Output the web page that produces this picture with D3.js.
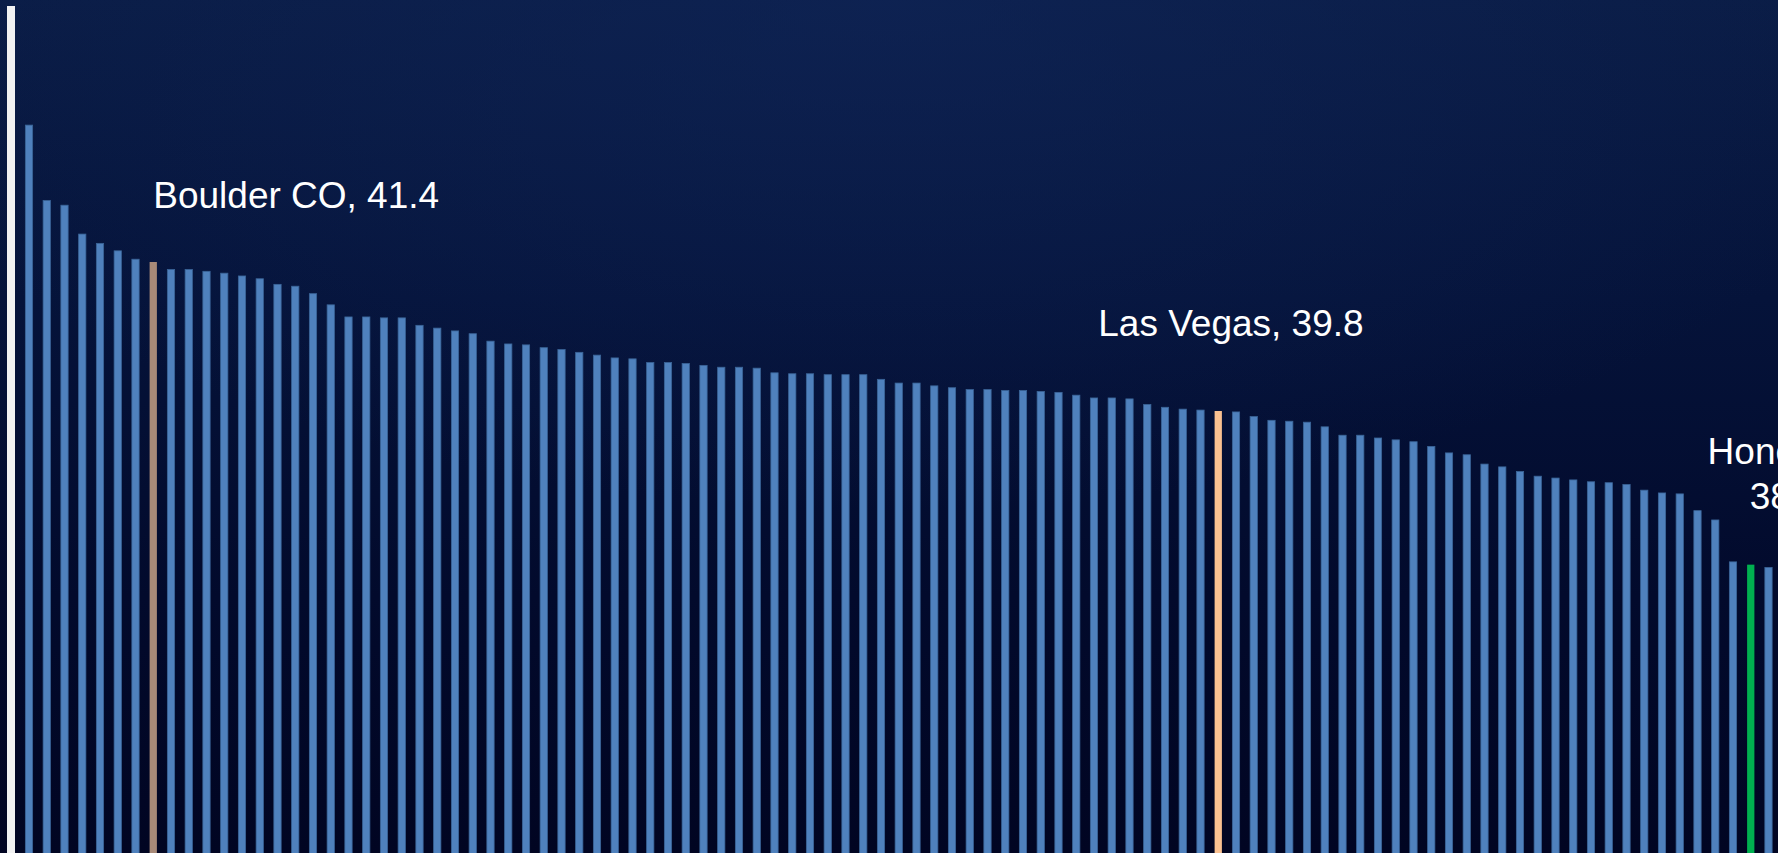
<!DOCTYPE html>
<html>
<head>
<meta charset="utf-8">
<script src="https://cdn.jsdelivr.net/npm/d3@7"></script>
<style>
  html, body { margin: 0; padding: 0; background: #020826; overflow: hidden; }
  svg { display: block; }
</style>
</head>
<body>
<div id="chart"></div>
<script>
// values per city, already sorted high to low (only the highlighted cities are named)
const values = [
  42.87, 42.06, 42.01, 41.70, 41.60, 41.52, 41.43, 41.40, 41.32, 41.32,
  41.30, 41.28, 41.25, 41.22, 41.16, 41.14, 41.06, 40.94, 40.81, 40.81,
  40.80, 40.80, 40.72, 40.69, 40.66, 40.63, 40.55, 40.52, 40.51, 40.48,
  40.46, 40.43, 40.40, 40.37, 40.36, 40.32, 40.32, 40.31, 40.29, 40.27,
  40.27, 40.26, 40.21, 40.20, 40.20, 40.19, 40.19, 40.19, 40.14, 40.10,
  40.10, 40.07, 40.05, 40.03, 40.03, 40.02, 40.02, 40.01, 40.00, 39.97,
  39.94, 39.94, 39.93, 39.87, 39.84, 39.82, 39.81, 39.80, 39.79, 39.74,
  39.70, 39.69, 39.68, 39.63, 39.54, 39.54, 39.51, 39.49, 39.47, 39.42,
  39.35, 39.33, 39.23, 39.20, 39.15, 39.10, 39.08, 39.06, 39.04, 39.03,
  39.01, 38.95, 38.92, 38.91, 38.73, 38.63, 38.18, 38.15, 38.12
];
const highlightNames = ["Boulder CO", "Las Vegas", "Honolulu"];
const highlightIndex = [7, 67, 97];

const width = 1778, height = 853;
const colorByName = { "Boulder CO": "#a88a78", "Las Vegas": "#fac191", "Honolulu": "#00b050" };

const svg = d3.select("#chart")
  .append("svg")
    .attr("width", width)
    .attr("height", height);

// background
const defs = svg.append("defs");
const lg = defs.append("linearGradient")
    .attr("id", "bg").attr("x1", 0).attr("y1", 0).attr("x2", 0).attr("y2", 1);
lg.append("stop").attr("offset", "0%").attr("stop-color", "#0a1c45");
lg.append("stop").attr("offset", "35%").attr("stop-color", "#05133a");
lg.append("stop").attr("offset", "70%").attr("stop-color", "#020a2c");
lg.append("stop").attr("offset", "100%").attr("stop-color", "#010522");
const rg = defs.append("radialGradient")
    .attr("id", "glow").attr("cx", "50%").attr("cy", "0%").attr("r", "60%");
rg.append("stop").attr("offset", "0%").attr("stop-color", "#10265a").attr("stop-opacity", 0.6);
rg.append("stop").attr("offset", "100%").attr("stop-color", "#10265a").attr("stop-opacity", 0);

svg.append("rect").attr("width", width).attr("height", height).attr("fill", "url(#bg)");
svg.append("rect").attr("width", width).attr("height", height).attr("fill", "url(#glow)");

// scales
const x = d3.scaleBand()
  .domain(d3.range(values.length))
  .range([20.125, 20.125 + 17.75 * values.length])
  .paddingInner(0.59)
  .paddingOuter(0.295);

const y = d3.scaleLinear()
  .domain([35, 43])
  .range([858, 113]);

// bars
const hl = new Map(highlightIndex.map((d, i) => [d, highlightNames[i]]));
svg.append("g")
  .selectAll("rect")
  .data(values)
  .join("rect")
    .attr("x", (d, i) => x(i))
    .attr("y", d => y(d))
    .attr("width", x.bandwidth())
    .attr("height", d => y(35) - y(d))
    .attr("fill", (d, i) => hl.has(i) ? colorByName[hl.get(i)] : "#4f81bd")
    .attr("stroke", (d, i) => hl.has(i) ? "none" : "#3a6497")
    .attr("stroke-width", 0.8);

// left axis line
svg.append("line")
  .attr("x1", 11).attr("x2", 11)
  .attr("y1", 6).attr("y2", height)
  .attr("stroke", "#f2f2f2")
  .attr("stroke-width", 8);

// annotations
const fmt = d3.format(".1f");
const labelLayout = [
  { dx: 0, dy: -54, anchor: "start", wrap: false },
  { dx: -120, dy: -75, anchor: "start", wrap: false },
  { dx: 35, dy: -101, anchor: "middle", wrap: true }
];

const labels = svg.append("g")
  .attr("font-family", "'Liberation Sans', Arial, sans-serif")
  .attr("font-size", 37)
  .attr("fill", "#ffffff");

highlightIndex.forEach((idx, k) => {
  const lay = labelLayout[k];
  const cx = x(idx) + x.bandwidth() / 2 + lay.dx;
  const by = y(values[idx]) + lay.dy;
  const t = labels.append("text")
    .attr("x", cx)
    .attr("y", by)
    .attr("text-anchor", lay.anchor);
  if (lay.wrap) {
    t.append("tspan").attr("x", cx).text(highlightNames[k] + ",");
    t.append("tspan").attr("x", cx).attr("dy", 45).text(fmt(values[idx]));
  } else {
    t.text(highlightNames[k] + ", " + fmt(values[idx]));
  }
});
</script>
</body>
</html>
